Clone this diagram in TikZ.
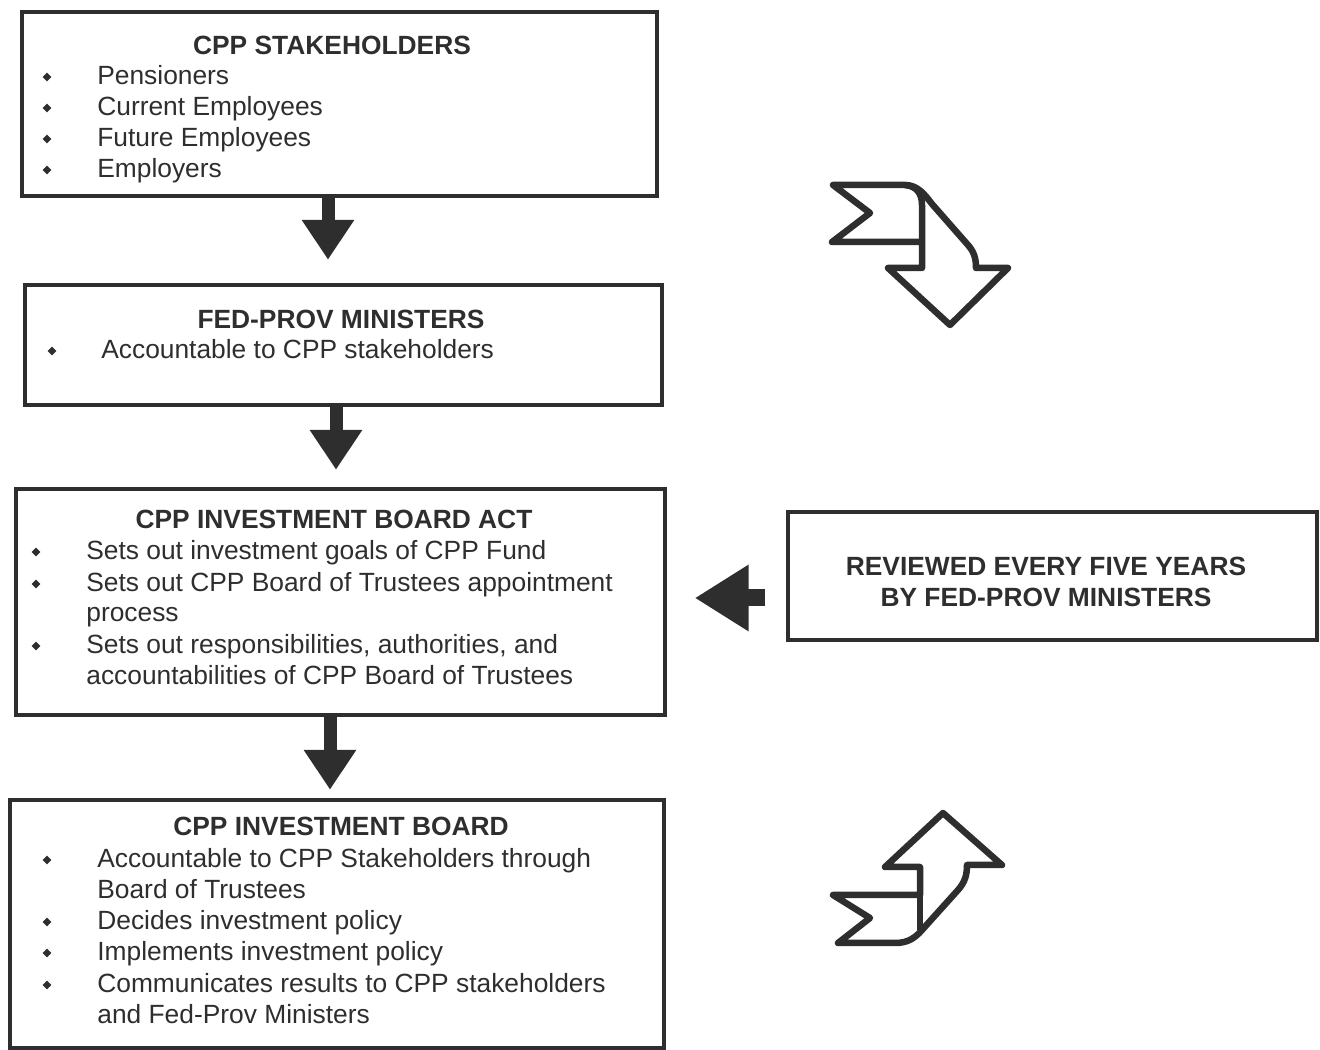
\documentclass[tikz,border=0pt]{standalone}
\usepackage{fontspec}
\setmainfont{Liberation Sans}
\usetikzlibrary{arrows.meta,fit,calc,shapes.geometric}
\definecolor{ink}{HTML}{2E2E2E}
\tikzset{
  box/.style={draw=ink, line width=0.07cm, inner sep=0pt},
  head/.style={anchor=base, font=\bfseries, text=ink, inner sep=0pt},
  item/.style={anchor=base west, text=ink, inner sep=0pt},
  bul/.style={diamond, fill=ink, inner sep=0pt, minimum size=0.18cm},
  down/.style={draw=ink, line width=0.26cm, -{Triangle[length=0.8cm,width=1.0cm]}},
  left/.style={draw=ink, line width=0.34cm, -{Triangle[length=1.08cm,width=1.26cm]}},
  ribbon/.style={draw=ink, line width=0.13cm, line join=round},
}
\begin{document}
\begin{tikzpicture}[x=0.02cm,y=-0.02cm]
\fontsize{15}{17.6}\selectfont
\useasboundingbox (0,0) rectangle (1320,1050);
% boxes
\node[box, fit={(22,12) (657,196)}] (b1) {};
\node[box, fit={(25,285) (662,405)}] (b2) {};
\node[box, fit={(16,489) (665,715)}] (b3) {};
\node[box, fit={(10,800) (664,1048)}] (b4) {};
\node[box, fit={(788,512) (1317,640)}] (rev) {};
% box 1 text
\node[head] (h1) at (332,55) {CPP STAKEHOLDERS};
\node[bul] (u11) at (47,77) {};
\node[item] (t11) at (97,85) {Pensioners};
\node[bul] (u12) at (47,108) {};
\node[item] (t12) at (97,116) {Current Employees};
\node[bul] (u13) at (47,139) {};
\node[item] (t13) at (97,147) {Future Employees};
\node[bul] (u14) at (47,170) {};
\node[item] (t14) at (97,178) {Employers};
% box 2 text
\node[head] (h2) at (341,329) {FED-PROV MINISTERS};
\node[bul] (u21) at (52,351) {};
\node[item] (t21) at (101,359) {Accountable to CPP stakeholders};
% box 3 text
\node[head] (h3) at (334,529) {CPP INVESTMENT BOARD ACT};
\node[bul] (u31) at (36,552) {};
\node[item] (t31) at (86,560) {Sets out investment goals of CPP Fund};
\node[bul] (u32) at (36,584) {};
\node[item] (t32) at (86,592) {Sets out CPP Board of Trustees appointment};
\node[item] (t33) at (86,622) {process};
\node[bul] (u34) at (36,646) {};
\node[item] (t34) at (86,654) {Sets out responsibilities, authorities, and};
\node[item] (t35) at (86,685) {accountabilities of CPP Board of Trustees};
% box 4 text
\node[head] (h4) at (341,836) {CPP INVESTMENT BOARD};
\node[bul] (u41) at (47,860) {};
\node[item] (t41) at (97,868) {Accountable to CPP Stakeholders through};
\node[item] (t42) at (97,899) {Board of Trustees};
\node[bul] (u43) at (47,922) {};
\node[item] (t43) at (97,930) {Decides investment policy};
\node[bul] (u44) at (47,953) {};
\node[item] (t44) at (97,961) {Implements investment policy};
\node[bul] (u45) at (47,985) {};
\node[item] (t45) at (97,993) {Communicates results to CPP stakeholders};
\node[item] (t46) at (97,1024) {and Fed-Prov Ministers};
% review box text
\node[head] (r1) at (1046,576) {REVIEWED EVERY FIVE YEARS};
\node[head] (r2) at (1046,607) {BY FED-PROV MINISTERS};
% down arrows
\draw[down] (b1.south -| 328,0) -- ($(b1.south -| 328,0)+(0,62)$);
\draw[down] (b2.south -| 336,0) -- ($(b2.south -| 336,0)+(0,63)$);
\draw[down] (b3.south -| 330,0) -- ($(b3.south -| 330,0)+(0,73)$);
% left arrow
\coordinate (la) at ($(rev.west |- 0,598)+(-21,0)$);
\coordinate (lb) at ($(b3.east |- 0,598)+(28,0)$);
\draw[left] (la) -- (lb);
% curved ribbon arrows
\draw[ribbon] (833,185) -- (905,185) .. controls (918,185) and (925,195) .. (932,204)
  -- (968,245) .. controls (974,252) and (976,258) .. (976,268)
  -- (1008,268) -- (950,325) -- (888,268) -- (922,268) -- (922,242)
  -- (832,242) -- (870,213) -- cycle;
\draw[ribbon] (922,242) -- (922,205) .. controls (922,193) and (916,186) .. (905,185);
\draw[ribbon] (833,895) -- (920,895) -- (920,867) -- (885,867) -- (943,813)
  -- (1002,865) -- (967,865) .. controls (967,875) and (965,882) .. (958,890)
  -- (922,930) .. controls (915,938) and (908,943) .. (895,943)
  -- (838,943) -- (870,918) -- cycle;
\draw[ribbon] (920,895) -- (920,930);
\end{tikzpicture}
\end{document}
